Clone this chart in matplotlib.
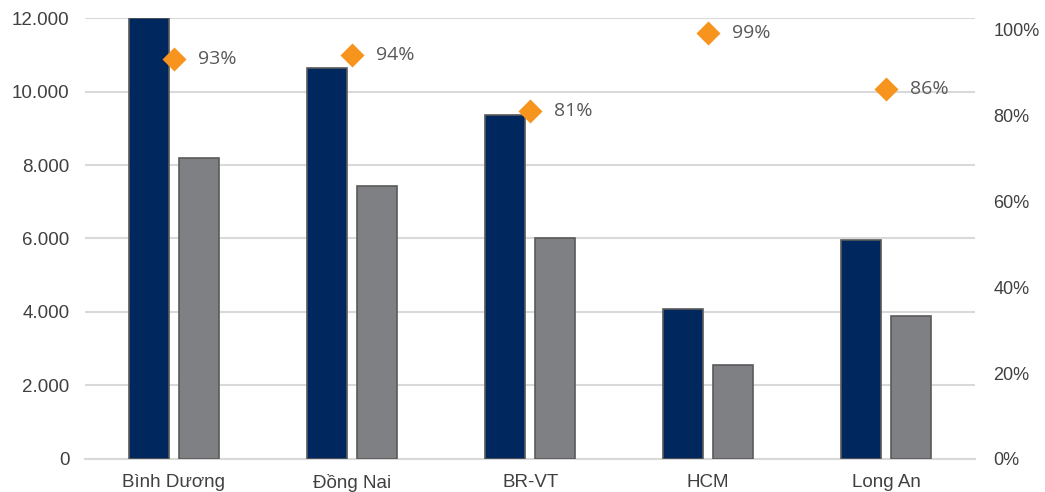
import matplotlib.pyplot as plt
import numpy as np
from matplotlib.ticker import FuncFormatter

provinces = ['Bình Dương', 'Đồng Nai', 'BR-VT', 'HCM', 'Long An']
total_area = [12000, 10650, 9350, 4080, 5950]
leased_area = [8200, 7430, 6000, 2550, 3900]
occupancy = [0.93, 0.94, 0.81, 0.99, 0.86]

navy = '#00275E'
grey = '#7F8083'
orange = '#F7941D'
text_col = '#404040'

plt.rcParams['font.family'] = ['Liberation Sans', 'DejaVu Sans']

fig = plt.figure(figsize=(10.45, 4.92), dpi=100)
ax = fig.add_axes([0.0813, 0.0671, 0.852, 0.8963])

x = np.arange(len(provinces))
w = 0.225
off = 0.14
ax.bar(x - off, total_area, w, color=navy, edgecolor='#5a5a5a', linewidth=1.2, zorder=3)
ax.bar(x + off, leased_area, w, color=grey, edgecolor='#5a5a5a', linewidth=1.2, zorder=3)

ax.set_xlim(-0.5, 4.5)
ax.set_ylim(0, 12000)
ax.set_yticks(range(0, 12001, 2000))
ax.yaxis.set_major_formatter(FuncFormatter(lambda v, p: f'{int(v):,}'.replace(',', '.')))
ax.grid(axis='y', color='#d9d9d9', linewidth=1.5, zorder=0)
ax.set_xticks(x)
ax.set_xticklabels(provinces)
ax.tick_params(axis='both', length=0, labelsize=13.5, colors=text_col)
ax.tick_params(axis='y', pad=11)
ax.tick_params(axis='x', pad=11)
for s in ['top', 'right', 'left']:
    ax.spines[s].set_visible(False)
ax.spines['bottom'].set_color('#d9d9d9')
ax.spines['bottom'].set_linewidth(1.5)

ax2 = ax.twinx()
ax2.set_ylim(0, 1.026)
ax2.set_yticks(np.arange(0, 1.01, 0.2))
ax2.yaxis.set_major_formatter(FuncFormatter(lambda v, p: f'{v:.0%}'))
ax2.tick_params(axis='y', length=0, labelsize=13, colors=text_col, pad=13)
for s in ax2.spines.values():
    s.set_visible(False)

ax2.scatter(x, occupancy, marker='D', s=150, color=orange, zorder=5, linewidths=0)
for xi, v in zip(x, occupancy):
    ax2.annotate(f'{v:.0%}', (xi, v), xytext=(17, 0), textcoords='offset points',
                 va='center', ha='left', fontsize=14, color='#595959',
                 family=['Open Sans', 'DejaVu Sans'])

fig.savefig('out.png', dpi=100)
